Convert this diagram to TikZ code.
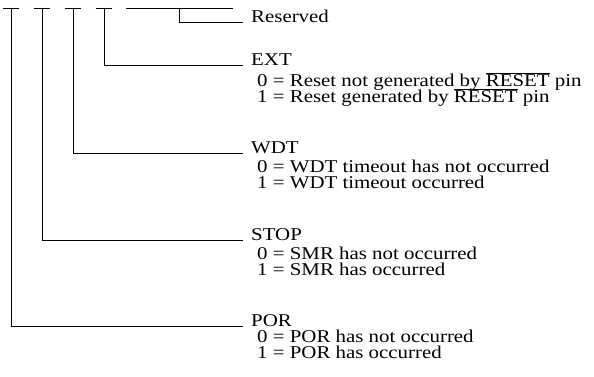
\documentclass[tikz,border=0pt]{standalone}
\usepackage{fontspec}
\setmainfont{Liberation Serif}[FakeStretch=1.16]
\newcommand{\nrst}{$\overline{\hbox{RESET}}$}
\begin{document}
\begin{tikzpicture}[
	x=1pt, y=-1pt,
	bit/.style = {inner sep=0pt, minimum width=16pt, minimum height=0pt},
	f/.style = {anchor=base west, inner xsep=8pt, inner ysep=0pt, font=\fontsize{18}{20}\selectfont},
	v/.style = {anchor=base west, inner sep=0pt, font=\fontsize{18}{20}\selectfont},
	r/.style = {line width=0.9pt}
	]
	\useasboundingbox (0,0) rectangle (594,377);
	
	%Nodes
	\node[bit]	(p7)	at	(11, 8)		{};
	\node[bit]	(p6)	at	(42, 8)		{};
	\node[bit]	(p5)	at	(73, 8)		{};
	\node[bit]	(p4)	at	(104, 8)	{};
	\node[bit, minimum width=107pt]	(p30)	at	(179.5, 8)	{};
	
	\node[f]	(res)	at	(243, 22.5)		{Reserved};
	
	\node[f]	(ext)	at	(243, 65.5)		{EXT};
	\node[v]	(ext0)	at	(257, 86.5)		{0 = Reset not generated by \nrst{} pin};
	\node[v]	(ext1)	at	(257, 103)		{1 = Reset generated by \nrst{} pin};
	
	\node[f]	(wdt)	at	(243, 153.5)	{WDT};
	\node[v]	(wdt0)	at	(257, 172)		{0 = WDT timeout has not occurred};
	\node[v]	(wdt1)	at	(257, 188)		{1 = WDT timeout occurred};
	
	\node[f]	(stop)	at	(243, 240.5)	{STOP};
	\node[v]	(stop0)	at	(257, 259.5)	{0 = SMR has not occurred};
	\node[v]	(stop1)	at	(257, 275.5)	{1 = SMR has occurred};
	
	\node[f]	(por)	at	(243, 326.5)	{POR};
	\node[v]	(por0)	at	(257, 342.5)	{0 = POR has not occurred};
	\node[v]	(por1)	at	(257, 358.5)	{1 = POR has occurred};
	
	%Lines
	\foreach \b in {p7, p6, p5, p4, p30}
		\draw[r]	(\b.west)	--	(\b.east);
	\draw[r]	(p30.center)	|-	(res.base west);
	\draw[r]	(p4.center)		|-	(ext.base west);
	\draw[r]	(p5.center)		|-	(wdt.base west);
	\draw[r]	(p6.center)		|-	(stop.base west);
	\draw[r]	(p7.center)		|-	(por.base west);
\end{tikzpicture}
\end{document}
